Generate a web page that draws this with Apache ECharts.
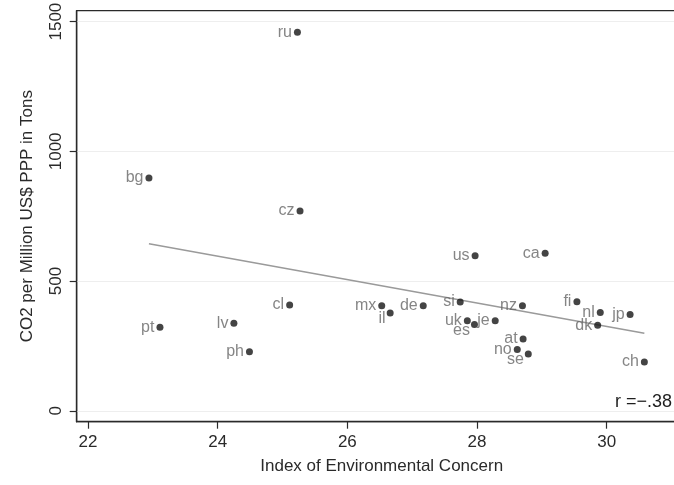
<!DOCTYPE html>
<html>
<head>
<meta charset="utf-8">
<script src="https://cdn.jsdelivr.net/npm/echarts@6/dist/echarts.min.js"></script>
<style>
  html, body { margin: 0; padding: 0; background: #fff; }
  #chart { width: 674px; height: 485px; }
</style>
</head>
<body>
<div id="chart"></div>
<script>
// ---- Data ----
const countries = ['ru','bg','cz','us','ca','cl','pt','lv','ph','mx','il','de','si','uk','es','je','nz','at','no','se','fi','nl','jp','dk','ch'];
const envConcern = [25.23, 22.94, 25.27, 27.97, 29.05, 25.11, 23.11, 24.25, 24.49, 26.53, 26.66, 27.17, 27.74, 27.85, 27.96, 28.28, 28.70, 28.71, 28.62, 28.79, 29.54, 29.90, 30.36, 29.86, 30.58];
const co2 = [1459, 897, 770, 598, 607, 408, 322, 337, 228, 405, 377, 405, 419, 347, 333, 347, 405, 277, 236, 219, 420, 379, 371, 330, 188];
const fitX = [22.94, 30.58];
const fitY = [644, 299];
const xTicks = [22, 24, 26, 28, 30];
const yTicks = [0, 500, 1000, 1500];
const rLabel = 'r =\u2212.38';

// ---- Styling helpers (not data) ----
const labelBelow = ['il', 'es', 'se'];
const FONT = '"Liberation Sans", Arial, Helvetica, sans-serif';
const AXIS = '#2a2a2a';

const pointData = countries.map((c, i) => ({
  name: c,
  value: [envConcern[i], co2[i]],
  label: labelBelow.includes(c) ? { offset: [1, 6] } : undefined
}));
const fitData = fitX.map((x, i) => [x, fitY[i]]);

const chart = echarts.init(document.getElementById('chart'), null, { renderer: 'canvas' });
chart.setOption({
  animation: false,
  backgroundColor: '#ffffff',
  textStyle: { fontFamily: FONT },
  grid: { left: 76.7, top: 10.7, bottom: 63.3, width: 610, show: true, borderColor: AXIS, borderWidth: 1.2, containLabel: false, outerBoundsMode: 'none' },
  xAxis: {
    type: 'value',
    min: 21.826, max: 31.233,
    name: 'Index of Environmental Concern',
    nameLocation: 'middle', nameGap: 36,
    nameTextStyle: { fontSize: 17, color: '#2a2a2a', fontFamily: FONT },
    axisLine: { show: true, onZero: false, lineStyle: { color: AXIS, width: 1.4 } },
    axisTick: { show: true, length: 7, customValues: xTicks, lineStyle: { color: AXIS, width: 1.2 } },
    axisLabel: { customValues: xTicks, fontSize: 17, color: '#2a2a2a', margin: 12, fontFamily: FONT, formatter: v => String(v) },
    splitLine: { show: false }
  },
  yAxis: {
    type: 'value',
    min: -42, max: 1542,
    name: 'CO2 per Million US$ PPP in Tons',
    nameLocation: 'middle', nameGap: 41, nameRotate: 90,
    nameTextStyle: { fontSize: 17, color: '#2a2a2a', fontFamily: FONT },
    axisLine: { show: true, onZero: false, lineStyle: { color: AXIS, width: 1.4 } },
    axisTick: { show: true, length: 7, customValues: yTicks, lineStyle: { color: AXIS, width: 1.2 } },
    axisLabel: { customValues: yTicks, rotate: 90, fontSize: 17, color: '#2a2a2a', margin: 12, fontFamily: FONT, formatter: v => String(v) },
    splitLine: { show: true, lineStyle: { color: '#eeeeee', width: 1.2 } }
  },
  series: [
    {
      type: 'line',
      data: fitData,
      symbol: 'none',
      silent: true,
      lineStyle: { color: '#9a9a9a', width: 1.4 },
      z: 2
    },
    {
      type: 'scatter',
      data: pointData,
      symbol: 'circle',
      symbolSize: 7,
      itemStyle: { color: '#151515' },
      label: {
        show: true,
        position: 'left',
        distance: 2,
        formatter: p => p.name,
        fontSize: 16,
        color: '#666666',
        fontFamily: FONT
      },
      z: 3
    }
  ],
  graphic: [
    {
      type: 'text',
      left: 615,
      top: 393,
      style: { text: rLabel, fontSize: 18, fill: '#1e1e1e', fontFamily: FONT }
    }
  ]
});
</script>
</body>
</html>
